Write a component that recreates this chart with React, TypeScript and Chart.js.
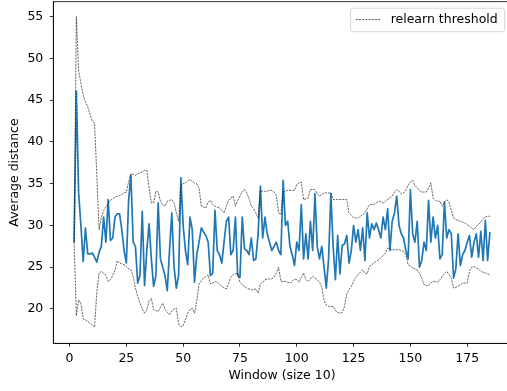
import React, { useEffect, useRef } from "react";
import { Chart, registerables } from "chart.js";

Chart.register(...registerables);

// ---- data ----
const firstWindow = 2;

const avgDistance = [
  28, 46.1, 33.9, 30, 25.7, 29.7, 26.6, 26.6, 26.7, 26.2,
  25.6, 26.8, 27.5, 31, 28, 33.1, 28.2, 28.5, 31, 31.4,
  31.4, 29.5, 27, 25.5, 33, 36, 28, 27.5, 23.1, 24,
  31.7, 22.8, 27, 30.2, 26, 22.7, 24, 32.7, 26, 25,
  24, 22.2, 27, 31.5, 25, 22.5, 24, 35.7, 30, 27,
  25.3, 31, 29.5, 23.2, 26.5, 28, 29.7, 29.2, 28.8, 28,
  24, 24.3, 31.8, 27, 26.5, 25.5, 28, 30.5, 31, 26.5,
  27, 31, 24, 23.8, 31, 27.2, 27, 26.5, 28.5, 25.8,
  26, 29, 34.7, 28.5, 31, 29, 28, 27, 27.5, 28,
  27, 26.5, 35.4, 30, 30.5, 27.5, 26.5, 25.2, 28, 27,
  32.5, 26, 29, 26, 30.5, 27, 33.8, 27.5, 26, 27.5,
  25, 22.5, 26, 33.8, 27.5, 23.5, 28.8, 24.2, 27.6, 27.8,
  28.8, 25.5, 27, 30, 28, 29.5, 27, 29.7, 25.8, 31.5,
  28.5, 30.2, 29.5, 30.3, 29.5, 28.5, 31, 29.5, 32, 27,
  30.5, 31.5, 33.5, 30, 29, 28.5, 27, 26, 34.3, 29,
  28, 30.5, 25, 25.8, 28, 27, 33, 28, 31, 28.5,
  30, 26, 26.5, 32.8, 28.5, 29.5, 29, 23.7, 24.8, 29,
  25.2, 26.5, 27, 28, 28.8, 26.2, 28, 29, 26.2, 29.3,
  25.8, 30.6, 25.8, 29.2,
];

const upperThreshold = [
  28, 55, 48.5, 47, 45.6, 44.8, 44.2, 43.3, 42.5, 42.3,
  36, 29.5, 31, 31.8, 32.2, 32.7, 33, 33.2, 33.4, 33.5,
  33.6, 33.7, 33.9, 34, 35.2, 36.2, 36.1, 36, 36.2, 36.3,
  36.4, 36.6, 36.6, 34.6, 32.7, 32.7, 34.1, 34, 32.9, 32.5,
  32.3, 32.9, 33, 33.1, 32.7, 31.5, 30.5, 34.8, 35, 35.1,
  35.3, 35.5, 35.3, 35.1, 35, 34.5, 32.3, 32.2, 32.1, 32.8,
  33, 32.5, 32.3, 32.2, 32.1, 31.8, 31.5, 32.3, 33, 33.3,
  33.5, 32.3, 33, 33.5, 34, 34.3, 33.9, 33.2, 32.3, 32,
  31.5, 30.9, 34.2, 34.1, 34.1, 34.1, 34.2, 34.2, 34, 33.6,
  31.5, 31.3, 34, 34.1, 34.2, 34.2, 34.2, 34.2, 34.9, 35.1,
  35.2, 33.1, 33.2, 33.3, 34.3, 34.3, 34.3, 33.8, 33.5, 33.7,
  33.9, 33.9, 33.9, 33.9, 33.1, 33.1, 33.1, 33.1, 33.1, 33.1,
  33.1, 31.5, 31.2, 30.9, 30.9, 30.9, 31.1, 31.3, 31.5, 32,
  32.5, 32.5, 32.5, 32.7, 32.9, 32.8, 32.7, 32.9, 33.1, 33.3,
  33.5, 34, 34.3, 34.1, 33.8, 33.9, 34.2, 34.8, 35.2, 35.4,
  34.8, 34.5, 34.2, 34, 34, 34, 34.5, 35.1, 33.3, 33,
  32.9, 32.9, 32.3, 32.8, 33.1, 32.8, 31.8, 30.9, 30.7, 30.6,
  30.5, 30.4, 30.3, 30.1, 29.9, 29.7, 29.5, 29.9, 30.1, 30.4,
  30.8, 31, 31.1, 31.1,
];

const lowerThreshold = [
  28, 19.2, 21.1, 20.7, 18.8, 18.7, 18.5, 18.3, 18.1, 17.8,
  22, 24.3, 24.5, 24.3, 24, 23.3, 23.5, 24, 24.6, 25.8,
  25.5, 25.4, 25.3, 25.1, 24.8, 24.7, 23.9, 22.5, 21.5, 20.7,
  20, 19.5, 19.9, 21, 21.3, 19.9, 19.8, 19.7, 20.2, 20.7,
  20, 19.6, 19.3, 19.8, 20, 20.1, 18.2, 17.9, 18, 18.7,
  19.5, 19.9, 20.1, 19.5, 21, 23, 23.4, 23.7, 23.9, 24.1,
  23, 23.1, 23.3, 23.2, 23, 22.7, 22.5, 22.4, 23, 23.8,
  24.1, 24.2, 24.3, 23.2, 22.9, 22.7, 22.5, 22.4, 22.3, 22.3,
  22.4, 21.9, 23, 23.2, 23.5, 23.6, 23.6, 23.6, 23.8, 24.3,
  25, 23.3, 23.3, 23.3, 23.2, 23.1, 23.3, 23.6, 23.5, 23.2,
  23.8, 24.3, 23.5, 23.3, 23.6, 23.9, 23.7, 23.5, 23.2, 22.7,
  21, 20.5, 20.3, 20.3, 20.3, 19.8, 19.6, 19.5, 19.6, 20.3,
  21.8, 22.3, 22.7, 23.3, 23.8, 24.1, 24.4, 24.7, 24.3, 24.2,
  25.1, 25.3, 25.5, 25.7, 25.9, 26.1, 26.4, 26.7, 27.3, 27.2,
  27.1, 27.1, 27.1, 27.1, 27, 26.9, 26.5, 25.3, 25.1, 24.9,
  24.8, 24.7, 24.3, 23.7, 22.9, 22.8, 22.8, 23.1, 23.3, 23.3,
  23.2, 23.5, 23.9, 24.2, 24.5, 24.1, 23.7, 22.5, 22.6, 22.7,
  22.9, 23.1, 23.1, 23.1, 24.5, 25, 25.1, 24.9, 24.8, 24.5,
  24.4, 24.3, 24.2, 24.1,
];

const xTicks = [0, 25, 50, 75, 100, 125, 150, 175];
const yTicks = [20, 25, 30, 35, 40, 45, 50, 55];
const xLabel = "Window (size 10)";
const yLabel = "Average distance";
const thresholdLabel = "relearn threshold";

// ---- styling ----
const FONT = "'DejaVu Sans', sans-serif";
const FS = 12.5;
const CW = 520;
const CH = 391;
const AREA = { left: 53.3, right: 510.7, top: 1.7, bottom: 343.3 };

const toPoints = (arr: number[]) =>
  arr.map((v, i) => ({ x: firstWindow + i, y: v }));

const mplLegend = {
  id: "mplLegend",
  afterDraw(chart: any) {
    const ds = chart.data.datasets.find((d: any) => d.showInLegend);
    if (!ds) return;
    const { ctx, chartArea } = chart;
    ctx.save();
    ctx.font = `${FS}px ${FONT}`;
    const tw = ctx.measureText(ds.label).width;
    const handle = 25;
    const padL = 5;
    const gap = 10;
    const padR = 7;
    const h = 23.5;
    const w = padL + handle + gap + tw + padR;
    const right = chartArea.right - 6;
    const top = chartArea.top + 6.5;
    const left = right - w;
    const r = 2.5;
    ctx.beginPath();
    ctx.moveTo(left + r, top);
    ctx.lineTo(left + w - r, top);
    ctx.quadraticCurveTo(left + w, top, left + w, top + r);
    ctx.lineTo(left + w, top + h - r);
    ctx.quadraticCurveTo(left + w, top + h, left + w - r, top + h);
    ctx.lineTo(left + r, top + h);
    ctx.quadraticCurveTo(left, top + h, left, top + h - r);
    ctx.lineTo(left, top + r);
    ctx.quadraticCurveTo(left, top, left + r, top);
    ctx.closePath();
    ctx.fillStyle = "rgba(255,255,255,0.8)";
    ctx.fill();
    ctx.strokeStyle = "rgba(204,204,204,0.8)";
    ctx.lineWidth = 1;
    ctx.stroke();
    const cy = top + h / 2 - 0.5;
    ctx.beginPath();
    ctx.setLineDash(ds.borderDash || []);
    ctx.strokeStyle = ds.borderColor;
    ctx.lineWidth = ds.borderWidth;
    ctx.moveTo(left + padL, cy);
    ctx.lineTo(left + padL + handle, cy);
    ctx.stroke();
    ctx.setLineDash([]);
    ctx.fillStyle = "#000";
    ctx.textAlign = "left";
    ctx.textBaseline = "middle";
    ctx.fillText(ds.label, left + padL + handle + gap, cy + 0.5);
    ctx.restore();
  },
};

const frame = {
  id: "frame",
  afterDatasetsDraw(chart: any) {
    const { ctx, chartArea: a } = chart;
    ctx.save();
    ctx.strokeStyle = "#000";
    ctx.lineWidth = 0.8;
    ctx.strokeRect(a.left, a.top, a.right - a.left, a.bottom - a.top);
    ctx.restore();
  },
};

export default function App() {
  const ref = useRef<HTMLCanvasElement | null>(null);

  useEffect(() => {
    document.documentElement.style.overflow = "hidden";
    document.body.style.margin = "0";
    const canvas = ref.current;
    if (!canvas) return;
    const dashed = {
      borderColor: "#000",
      borderWidth: 0.6,
      borderDash: [2.2, 1],
      pointRadius: 0,
      fill: false,
      tension: 0,
      order: 1,
    };
    const chart = new Chart(canvas, {
      type: "line",
      data: {
        datasets: [
          {
            label: "Average distance",
            data: toPoints(avgDistance),
            borderColor: "#1f77b4",
            borderWidth: 1.7,
            pointRadius: 0,
            fill: false,
            tension: 0,
            borderJoinStyle: "round",
            order: 2,
          },
          { ...dashed, label: thresholdLabel, showInLegend: true, data: toPoints(upperThreshold) } as any,
          { ...dashed, label: thresholdLabel + " (lower)", data: toPoints(lowerThreshold) } as any,
        ],
      },
      options: {
        responsive: false,
        animation: false,
        devicePixelRatio: 1,
        layout: { padding: { left: 0, top: AREA.top, right: CW - AREA.right, bottom: 0 } },
        plugins: { legend: { display: false }, tooltip: { enabled: false } },
        scales: {
          x: {
            type: "linear",
            min: -7.15,
            max: 194.15,
            afterBuildTicks: (s: any) => {
              s.ticks = xTicks.map((v) => ({ value: v }));
            },
            afterFit: (s: any) => {
              s.height = CH - AREA.bottom;
              s.paddingLeft = 0;
              s.paddingRight = 0;
              s.paddingTop = 0;
              s.paddingBottom = 0;
            },
            grid: {
              display: true,
              drawOnChartArea: false,
              drawTicks: true,
              tickLength: 3.5,
              tickWidth: 0.8,
              tickColor: "#000",
            },
            border: { display: true, color: "#000", width: 0.8 },
            ticks: {
              color: "#000",
              font: { family: FONT, size: FS },
              padding: 4,
              maxRotation: 0,
              autoSkip: false,
            },
            title: {
              display: true,
              text: xLabel,
              color: "#000",
              font: { family: FONT, size: FS },
              padding: { top: 0, bottom: 8 },
            },
          },
          y: {
            type: "linear",
            min: 15.89,
            max: 56.79,
            afterBuildTicks: (s: any) => {
              s.ticks = yTicks.map((v) => ({ value: v }));
            },
            afterFit: (s: any) => {
              s.width = AREA.left;
              s.paddingLeft = 0;
              s.paddingRight = 0;
              s.paddingTop = 0;
              s.paddingBottom = 0;
            },
            grid: {
              display: true,
              drawOnChartArea: false,
              drawTicks: true,
              tickLength: 3.5,
              tickWidth: 0.8,
              tickColor: "#000",
            },
            border: { display: true, color: "#000", width: 0.8 },
            ticks: {
              color: "#000",
              font: { family: FONT, size: FS },
              padding: 6.5,
              autoSkip: false,
            },
            title: {
              display: true,
              text: yLabel,
              color: "#000",
              font: { family: FONT, size: FS },
              padding: { top: 7.6, bottom: 0 },
            },
          },
        },
      },
      plugins: [frame, mplLegend],
    });
    return () => chart.destroy();
  }, []);

  return (
    <div style={{ position: "fixed", left: 0, top: 0, width: CW, height: CH, background: "#fff" }}>
      <canvas ref={ref} width={CW} height={CH} style={{ width: CW, height: CH, display: "block" }} />
    </div>
  );
}
